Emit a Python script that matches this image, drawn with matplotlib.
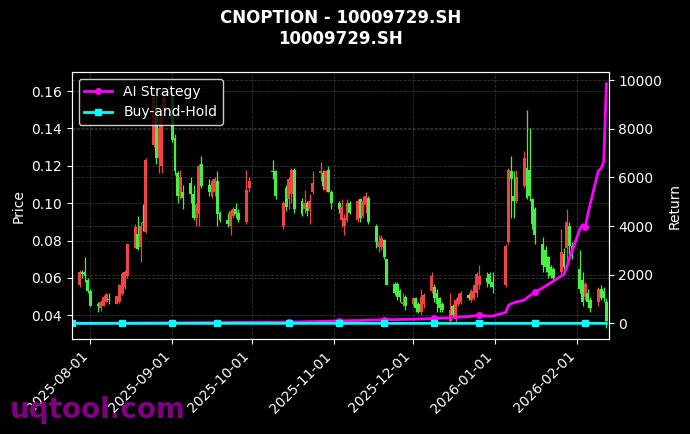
import numpy as np
import pandas as pd
import matplotlib
matplotlib.use("Agg")
import matplotlib.pyplot as plt
import matplotlib.dates as mdates

# ==========================================
# DATA
# ==========================================

# trading days of the contract (weekends + Chinese holidays closed)
holidays = ["2025-10-01", "2025-10-02", "2025-10-03", "2025-10-06",
            "2025-10-07", "2025-10-08", "2026-01-01", "2026-01-02"]
dates = pd.bdate_range("2025-07-25", "2026-02-12", freq="C", holidays=holidays)

opens = [
    0.059, 0.056, 0.063, 0.063, 0.059,
    0.053, 0.046, 0.044, 0.045, 0.047, 0.0485, 0.046, 0.047, 0.0515, 0.055,
    0.061, 0.076, 0.0835, 0.0765, 0.090, 0.0845, 0.131, 0.152, 0.124, 0.120, 0.150,
    0.158, 0.135, 0.116, 0.104, 0.106, 0.111, 0.105, 0.092, 0.094, 0.121, 0.110,
    0.104, 0.106, 0.112, 0.095, 0.091, 0.088, 0.093, 0.097, 0.095, 0.090, 0.108,
    0.117, 0.117, 0.088, 0.108, 0.102, 0.105, 0.118, 0.101, 0.097, 0.100, 0.097,
    0.106, 0.116, 0.116, 0.107, 0.118, 0.106,
    0.100, 0.091, 0.088, 0.091, 0.100, 0.091, 0.102, 0.093, 0.099, 0.103, 0.088,
    0.0765, 0.0765, 0.0805, 0.070, 0.057, 0.057, 0.053, 0.046, 0.050,
    0.046, 0.049, 0.046, 0.042, 0.046, 0.053, 0.055, 0.052, 0.049, 0.046, 0.037,
    0.045, 0.038, 0.046, 0.047, 0.051, 0.048, 0.049, 0.052, 0.056, 0.060, 0.062, 0.058,
    0.056, 0.079, 0.117, 0.104, 0.101, 0.109, 0.119, 0.118, 0.102, 0.097, 0.078,
    0.075, 0.071, 0.066, 0.065, 0.063, 0.073, 0.076, 0.088, 0.077,
    0.065, 0.059, 0.050, 0.052, 0.048, 0.047, 0.054, 0.053, 0.047,
]
highs = [
    0.062, 0.064, 0.064, 0.071, 0.060,
    0.054, 0.047, 0.048, 0.051, 0.052, 0.052, 0.0505, 0.0565, 0.063, 0.064,
    0.0785, 0.089, 0.093, 0.090, 0.0995, 0.124, 0.160, 0.160, 0.146, 0.159, 0.160,
    0.160, 0.137, 0.117, 0.118, 0.110, 0.114, 0.110, 0.100, 0.121, 0.125, 0.113,
    0.113, 0.114, 0.117, 0.096, 0.095, 0.097, 0.098, 0.100, 0.097, 0.118, 0.114,
    0.123, 0.118, 0.101, 0.110, 0.114, 0.119, 0.119, 0.103, 0.107, 0.101, 0.105,
    0.117, 0.122, 0.118, 0.118, 0.120, 0.107,
    0.101, 0.102, 0.094, 0.102, 0.101, 0.102, 0.103, 0.104, 0.106, 0.104, 0.089,
    0.083, 0.083, 0.081, 0.070, 0.058, 0.058, 0.054, 0.052, 0.051,
    0.050, 0.050, 0.047, 0.054, 0.052, 0.063, 0.057, 0.054, 0.050, 0.047, 0.052,
    0.046, 0.049, 0.052, 0.053, 0.052, 0.054, 0.057, 0.063, 0.067, 0.063, 0.063, 0.063,
    0.078, 0.119, 0.125, 0.117, 0.118, 0.128, 0.150, 0.140, 0.103, 0.098, 0.082,
    0.077, 0.072, 0.067, 0.066, 0.086, 0.076, 0.097, 0.090, 0.079,
    0.075, 0.063, 0.058, 0.054, 0.050, 0.055, 0.056, 0.055, 0.049,
]
lows = [
    0.058, 0.055, 0.060, 0.058, 0.052,
    0.045, 0.042, 0.0425, 0.045, 0.047, 0.046, 0.046, 0.0465, 0.051, 0.054,
    0.060, 0.076, 0.075, 0.0685, 0.085, 0.084, 0.130, 0.121, 0.116, 0.116, 0.149,
    0.133, 0.115, 0.100, 0.102, 0.097, 0.100, 0.091, 0.088, 0.088, 0.108, 0.104,
    0.103, 0.104, 0.088, 0.090, 0.087, 0.083, 0.092, 0.092, 0.090, 0.089, 0.106,
    0.113, 0.102, 0.086, 0.096, 0.097, 0.100, 0.095, 0.093, 0.095, 0.093, 0.089,
    0.105, 0.112, 0.107, 0.106, 0.106, 0.097,
    0.095, 0.087, 0.083, 0.090, 0.094, 0.090, 0.090, 0.092, 0.095, 0.089, 0.076,
    0.074, 0.075, 0.070, 0.056, 0.051, 0.048, 0.047, 0.045, 0.043,
    0.045, 0.042, 0.041, 0.040, 0.044, 0.052, 0.047, 0.042, 0.042, 0.042, 0.036,
    0.039, 0.036, 0.045, 0.046, 0.048, 0.047, 0.048, 0.050, 0.054, 0.055, 0.055, 0.052,
    0.055, 0.078, 0.092, 0.092, 0.100, 0.108, 0.102, 0.101, 0.086, 0.078, 0.063,
    0.063, 0.060, 0.060, 0.059, 0.062, 0.063, 0.067, 0.072, 0.070,
    0.052, 0.045, 0.048, 0.044, 0.042, 0.045, 0.048, 0.047, 0.033,
]
closes = [
    0.061, 0.063, 0.062, 0.061, 0.053,
    0.045, 0.045, 0.047, 0.050, 0.0515, 0.048, 0.0505, 0.056, 0.062, 0.063,
    0.078, 0.087, 0.0755, 0.088, 0.0895, 0.123, 0.157, 0.124, 0.140, 0.150, 0.157,
    0.134, 0.117, 0.104, 0.114, 0.103, 0.105, 0.092, 0.099, 0.120, 0.109, 0.106,
    0.112, 0.113, 0.094, 0.091, 0.089, 0.096, 0.097, 0.094, 0.091, 0.107, 0.112,
    0.1165, 0.104, 0.100, 0.098, 0.113, 0.118, 0.097, 0.094, 0.100, 0.096, 0.101,
    0.111, 0.117, 0.109, 0.117, 0.106, 0.100,
    0.097, 0.098, 0.092, 0.100, 0.095, 0.101, 0.092, 0.101, 0.104, 0.090, 0.079,
    0.079, 0.0815, 0.071, 0.056, 0.052, 0.050, 0.050, 0.047, 0.045,
    0.049, 0.044, 0.042, 0.050, 0.051, 0.061, 0.049, 0.046, 0.044, 0.043, 0.043,
    0.040, 0.048, 0.050, 0.052, 0.049, 0.053, 0.056, 0.062, 0.061, 0.058, 0.057, 0.055,
    0.077, 0.118, 0.113, 0.101, 0.114, 0.124, 0.103, 0.104, 0.089, 0.083, 0.067,
    0.066, 0.063, 0.061, 0.060, 0.074, 0.066, 0.090, 0.077, 0.072,
    0.054, 0.047, 0.057, 0.047, 0.044, 0.054, 0.049, 0.049, 0.037,
]

# cumulative return of the AI strategy (%)
ai_return = [
    0, 1, 2, 2, 3,
    3, 4, 4, 5, 5, 6, 7, 8, 8, 9, 10, 11, 12, 13, 14, 15, 16, 17, 18, 19, 20,
    20, 21, 22, 22, 23, 24, 25, 26, 27, 28, 29, 30, 31, 32, 33, 34, 35, 36, 37,
    38, 39, 40,
    42, 44, 46, 48, 50, 53, 56, 59, 62, 65, 68, 72, 76, 80, 84, 88, 92,
    95, 100, 102, 105, 110, 114, 118, 120, 125, 130, 134, 138, 140, 145, 150,
    152, 155, 158, 160, 165,
    168, 172, 176, 180, 185, 195, 200, 205, 210, 215, 225, 235, 245, 255, 265,
    280, 295, 305, 315, 325, 295, 290, 300,
    450, 740, 800, 840, 880, 950, 1050, 1130, 1210, 1280, 1460, 1530, 1600,
    1670, 1740, 1950, 2020, 2300, 2650, 2950,
    3880, 4060, 3960, 4480, 4950, 6280, 6350, 6650, 9850,
]

# buy-and-hold: held contract relative to first close
buy_hold = [c / closes[0] - 1 for c in closes]

# ==========================================
# CHART
# ==========================================

plt.style.use("dark_background")

fig, ax = plt.subplots(figsize=(6.9, 4.34), dpi=100)
fig.subplots_adjust(left=0.104, right=0.882, top=0.834, bottom=0.218)

o = np.array(opens)
h = np.array(highs)
l = np.array(lows)
c = np.array(closes)

# red = rising, green = falling
up = c >= o
cols = np.where(up, "#f04444", "#44f044")

ax.vlines(dates, l, h, colors=cols, linewidth=0.9, zorder=2)
body = np.maximum(np.abs(c - o), 0.0006)
ax.bar(dates, body, bottom=np.minimum(o, c), width=1.1,
       color=cols, edgecolor=cols, linewidth=0, zorder=3)

ax.set_ylim(0.0271, 0.1702)
ax.set_xlim(dates[0], dates[-1] + pd.Timedelta(hours=20))
ax.set_ylabel("Price", color="white")
ax.grid(True, linestyle="--", color="gray", alpha=0.4, linewidth=0.6)

ax.xaxis.set_major_locator(mdates.MonthLocator())
ax.xaxis.set_major_formatter(mdates.DateFormatter("%Y-%m-%d"))
plt.setp(ax.get_xticklabels(), rotation=45, ha="right")

ax2 = ax.twinx()
ax2.plot(dates, ai_return, color="#ff00ff", linewidth=2,
         marker="o", markersize=4, markevery=13, label="AI Strategy")
ax2.plot(dates, buy_hold, color="#00ffff", linewidth=2,
         marker="s", markersize=4, markevery=13, label="Buy-and-Hold")
ax2.set_ylim(-660, 10330)
ax2.set_ylabel("Return", color="white")
ax2.grid(True, linestyle="--", color="gray", alpha=0.4, linewidth=0.6)

leg = ax2.legend(loc="upper left", fontsize=10, facecolor="black",
                 edgecolor="white", framealpha=0.8)

ax.set_title("CNOPTION - 10009729.SH\n10009729.SH",
             fontsize=12, fontweight="bold", color="white", pad=20)

fig.text(0.014, 0.037, "uqtool.com", fontsize=20, fontweight="bold",
         color="#800080", va="baseline", zorder=10)

fig.savefig("out.png", dpi=100, facecolor="black")
